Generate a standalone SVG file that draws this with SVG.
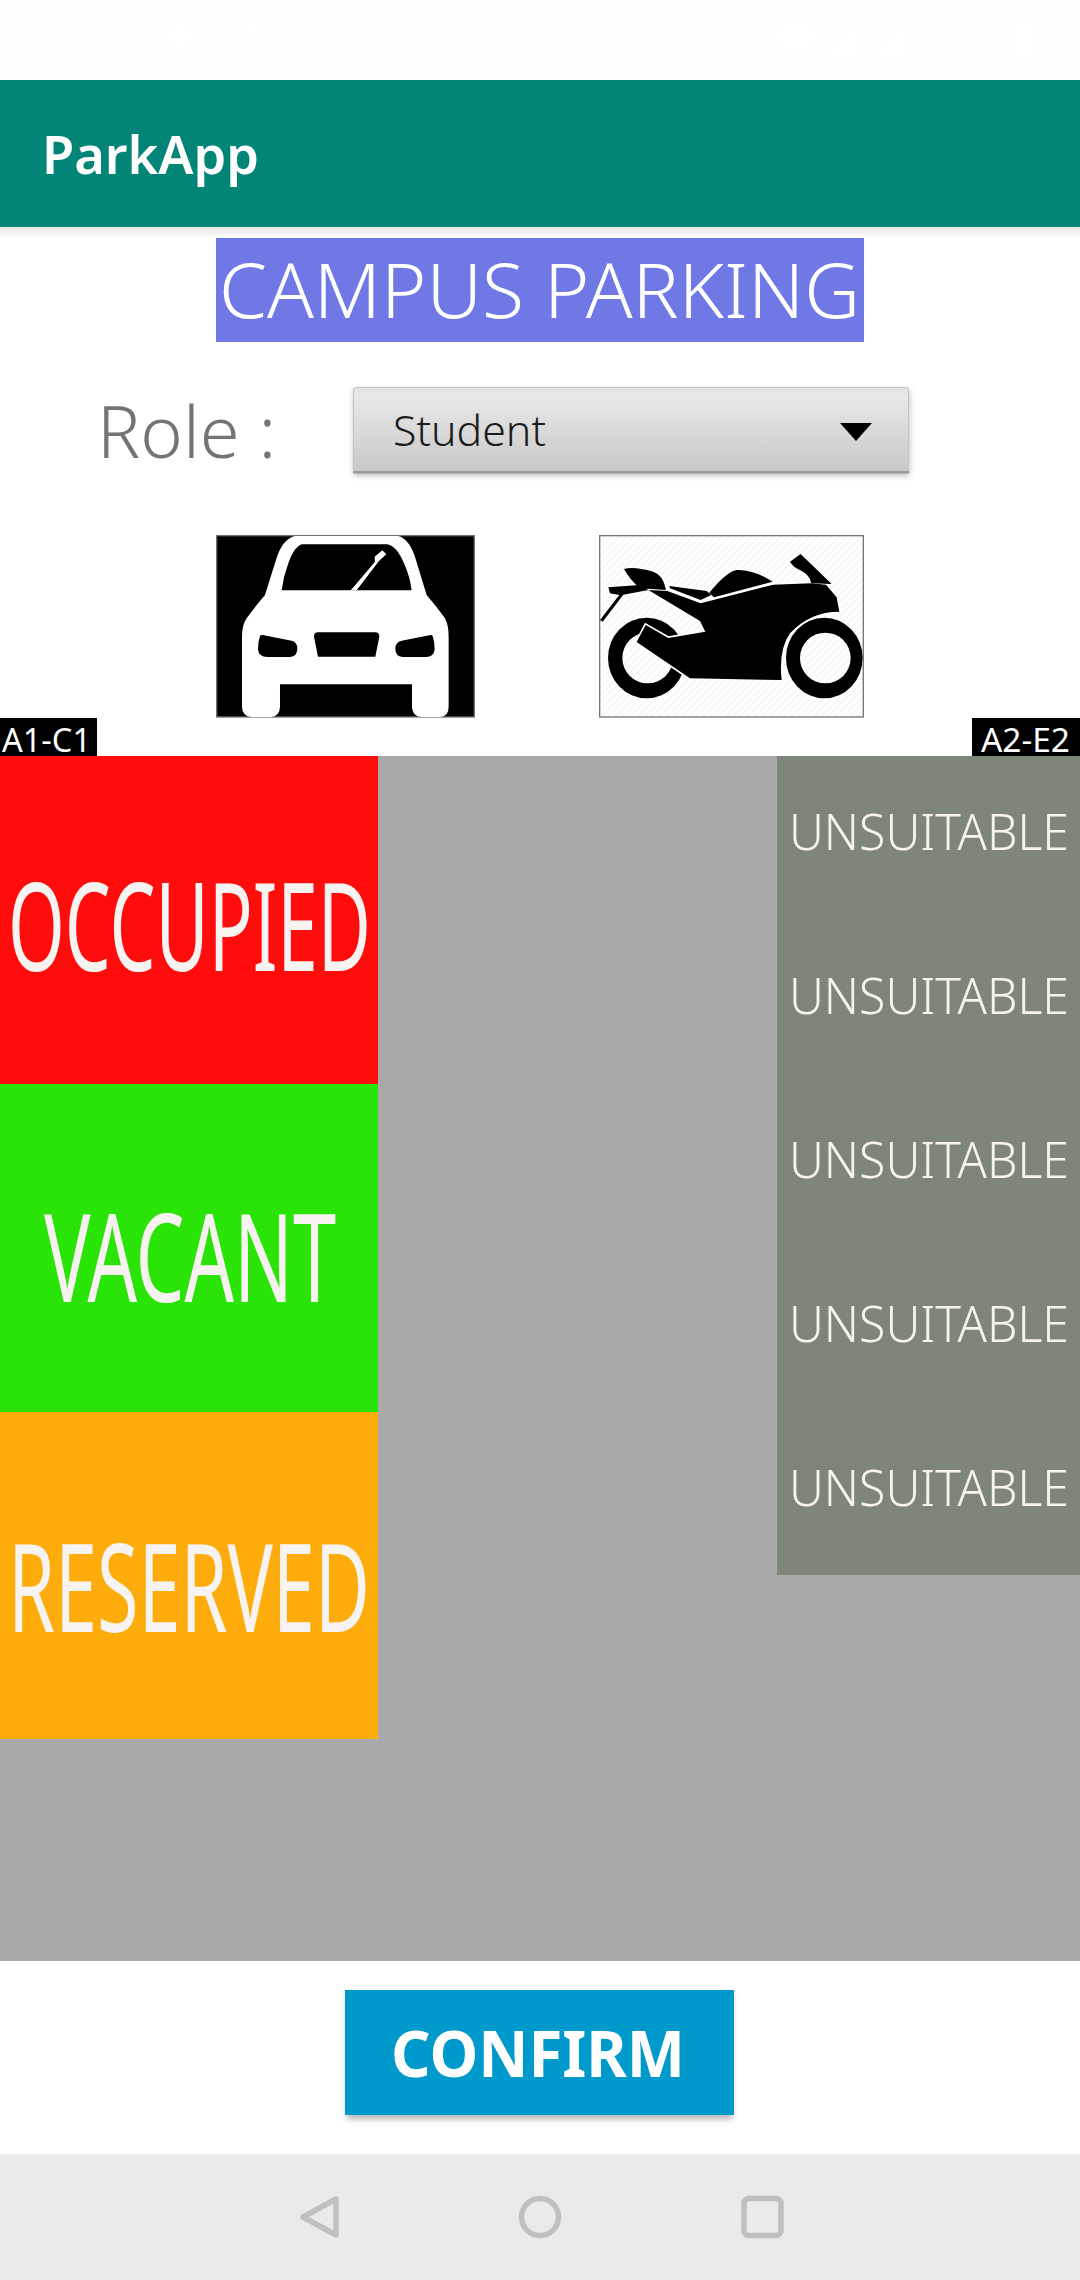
<svg xmlns="http://www.w3.org/2000/svg" width="1080" height="2280" viewBox="0 0 1080 2280">
<style>
text{font-family:"Noto Sans","Open Sans","Liberation Sans",sans-serif}
.big{font-size:123px;fill:#f7f3f1}
.uns{font-size:50px;fill:#f7f3f1;font-weight:350}
.tag{font-size:32px;fill:#fff;font-weight:400}
.st{fill:#fff}
</style>
<defs>
<linearGradient id="dd" x1="0" y1="0" x2="0" y2="1"><stop offset="0" stop-color="#e2e2e2"/><stop offset=".12" stop-color="#e8e8e8"/><stop offset="1" stop-color="#c8c8c8"/></linearGradient>
<linearGradient id="sh" x1="0" y1="0" x2="0" y2="1"><stop offset="0" stop-color="#000" stop-opacity=".1"/><stop offset="1" stop-color="#000" stop-opacity="0"/></linearGradient>
<filter id="blur" x="-10%" y="-30%" width="120%" height="170%"><feGaussianBlur stdDeviation="3"/></filter>
<pattern id="hatch" width="22" height="22" patternUnits="userSpaceOnUse"><rect width="22" height="22" fill="#fff"/><path d="M-2 24L24 -2M-13 13L13 -13M9 35L35 9" stroke="#f1f1f1" stroke-width="3"/></pattern>
</defs>
<rect width="1080" height="2280" fill="#fff"/>
<g id="status-bar">
<rect width="1080" height="80" fill="#fdfdfd"/>
<text x="50" y="55" font-size="36" textLength="92" lengthAdjust="spacingAndGlyphs" class="st">11:19</text>
<path class="st" d="M180 24a12 12 0 0 1 12 16q0 8-12 17q-12-9-12-17a12 12 0 0 1 12-16zM218 24h38v33h-38zM224 30v21h26V30z" fill-rule="evenodd"/>
<path d="M285 25l6 10-6 10 6 10M300 25l-8 10 8 10-8 10" fill="none" stroke="#fff" stroke-width="3"/>
<path class="st" d="M772 32a32 32 0 0 1 46 0q0 8-23 25q-23-17-23-25zM826 57l30-34v34zM872 57l32-34v34z"/>
<text x="926" y="55" font-size="36" textLength="70" lengthAdjust="spacingAndGlyphs" class="st">65%</text>
<rect class="st" x="1010" y="24" width="22" height="33"/>
</g>
<g id="app-bar">
<rect y="227" width="1080" height="12" fill="url(#sh)"/>
<rect y="80" width="1080" height="147" fill="#028577"/>
<text x="42" y="174" font-size="52" font-weight="600" fill="#fff" textLength="217" lengthAdjust="spacingAndGlyphs">ParkApp</text>
</g>
<g id="title">
<rect x="216" y="238" width="648" height="104" fill="#7078e6"/>
<text x="219" y="318" font-size="76" font-weight="350" fill="#fff" textLength="641" lengthAdjust="spacingAndGlyphs">CAMPUS PARKING</text>
</g>
<g id="role">
<text x="97" y="458" font-size="71" font-weight="350" fill="#747474" textLength="179" lengthAdjust="spacingAndGlyphs">Role :</text>
</g>
<g id="dropdown">
<rect x="354" y="390" width="555" height="85" fill="#000" opacity=".3" filter="url(#blur)"/>
<rect x="353.500" y="387.500" width="555" height="85" rx="2" fill="url(#dd)" stroke="#c4c4c4"/>
<rect x="353" y="471" width="556" height="2.500" fill="#9a9a9a"/>
<text x="393" y="446" font-size="42" font-weight="350" fill="#1c1c1c" textLength="153" lengthAdjust="spacingAndGlyphs">Student</text>
<path d="M840 423h32l-16 18z" fill="#000"/>
</g>
<g id="car-icon" transform="translate(180 510) scale(.3333)">
<rect x="110" y="77" width="773" height="544" fill="#000" stroke="#6e6e6e" stroke-width="4"/>
<path fill="#fff" d="M345 78H655Q690 88 708 150L740 255Q770 290 795 325Q806 345 806 380V590Q806 620 780 621H725Q697 620 696 590V523H300V590Q299 620 272 621H215Q187 620 186 590V380Q186 345 200 325Q225 290 255 255L288 150Q306 88 345 78Z"/>
<path fill="#000" d="M365 103H622Q650 108 672 160Q690 200 695 241H305Q310 200 325 160Q342 110 365 103Z"/>
<path fill="#000" d="M248 375L335 392Q352 397 352 415Q352 440 330 441H262Q236 441 234 418Q234 395 240 378Q243 374 248 375ZM752 375L665 392Q646 397 646 415Q646 440 668 441H738Q762 441 764 418Q764 395 758 378Q756 374 752 375ZM412 367H588Q598 368 598 380L586 440H414L402 380Q402 368 412 367Z"/>
<path fill="#fff" d="M512 241L526 225 585 155 584 140 607 121 619 133 597 153 530 241Z"/>
</g>
<g id="bike-icon" transform="translate(580 510) scale(.3333)">
<rect x="59" y="77" width="791" height="544" fill="url(#hatch)" stroke="#747474" stroke-width="4"/>
<path fill="#000" fill-rule="evenodd" d="M84 444a116 121 0 1 0 232 0a116 121 0 1 0-232 0zM127 444a76 76 0 1 1 152 0a76 76 0 1 1-152 0zM618 444a115 121 0 1 0 230 0a115 121 0 1 0-230 0zM660 444a76 76 0 1 1 152 0a76 76 0 1 1-152 0z"/>
<path fill="#000" stroke="#fff" stroke-width="10" paint-order="stroke" d="M170 396L197 345 265 384 376 365 360 333 205 240 262 243 362 280 580 224 694 220 738 224 770 262 778 305Q690 305 630 370Q595 420 605 510L330 505Z"/>
<path fill="#000" d="M85 232L180 225 205 240 130 254 68 335 60 330 118 255 90 250ZM132 177Q160 168 220 185Q250 195 258 240L180 235Q150 210 132 177ZM268 228L380 243 394 255 362 270 270 235ZM388 248Q440 185 470 180Q520 178 578 215L402 262ZM630 155L662 132 755 222 694 220Q690 195 660 180Q640 172 630 155Z"/>
</g>
<g id="lot">
<rect y="756" width="1080" height="1205" fill="#a9a9a9"/>
</g>
<g id="tag-a1"><rect y="718" width="97" height="38" fill="#000"/><text class="tag" x="2" y="752" textLength="89" lengthAdjust="spacingAndGlyphs">A1-C1</text></g>
<g id="tag-a2"><rect x="972" y="718" width="108" height="38" fill="#000"/><text class="tag" x="981" y="752" textLength="89" lengthAdjust="spacingAndGlyphs">A2-E2</text></g>
<g id="slot-occupied"><rect y="756" width="378" height="328" fill="#ff0c0c"/><text class="big" x="8" y="971" textLength="363" lengthAdjust="spacingAndGlyphs">OCCUPIED</text></g>
<g id="slot-vacant"><rect y="1084" width="378" height="328" fill="#2ae307"/><text class="big" x="44" y="1302" textLength="292" lengthAdjust="spacingAndGlyphs">VACANT</text></g>
<g id="slot-reserved"><rect y="1412" width="378" height="327" fill="#feab0c"/><text class="big" x="8" y="1632" textLength="362" lengthAdjust="spacingAndGlyphs">RESERVED</text></g>
<g id="slot-unsuitable">
<rect x="777" y="756" width="303" height="819" fill="#7d8678"/>
<text class="uns" x="789" y="850" textLength="280" lengthAdjust="spacingAndGlyphs">UNSUITABLE</text>
<text class="uns" x="789" y="1014" textLength="280" lengthAdjust="spacingAndGlyphs">UNSUITABLE</text>
<text class="uns" x="789" y="1178" textLength="280" lengthAdjust="spacingAndGlyphs">UNSUITABLE</text>
<text class="uns" x="789" y="1342" textLength="280" lengthAdjust="spacingAndGlyphs">UNSUITABLE</text>
<text class="uns" x="789" y="1506" textLength="280" lengthAdjust="spacingAndGlyphs">UNSUITABLE</text>
</g>
<g id="confirm">
<rect x="347" y="1994" width="385" height="125" fill="#000" opacity=".3" filter="url(#blur)"/>
<rect x="345" y="1990" width="389" height="125" fill="#0099cc"/>
<text x="391" y="2077" font-size="64" font-weight="700" fill="#fff" textLength="294" lengthAdjust="spacingAndGlyphs">CONFIRM</text>
</g>
<g id="nav-bar">
<rect y="2154" width="1080" height="126" fill="#eaeaea"/>
<path d="M336 2199V2235L303 2217Z" fill="none" stroke="#c0c0c0" stroke-width="5.500" stroke-linejoin="round"/>
<circle cx="540" cy="2217" r="18.500" fill="none" stroke="#c0c0c0" stroke-width="5.500"/>
<rect x="744" y="2198.500" width="37" height="37" rx="5" fill="none" stroke="#c0c0c0" stroke-width="5.500"/>
</g>
</svg>
